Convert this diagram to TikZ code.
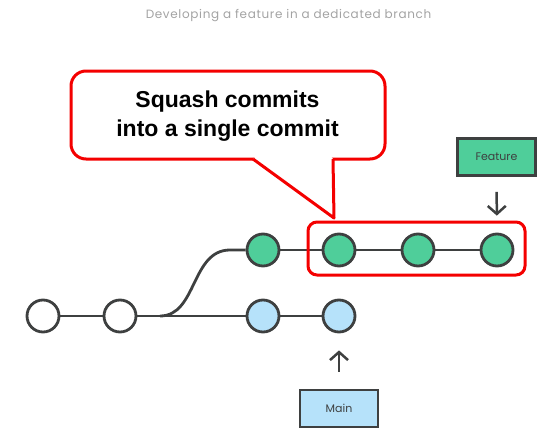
\documentclass[tikz,border=0pt]{standalone}
\usepackage{fontspec}
\setmainfont{Liberation Sans}
\newfontfamily\labelfont{Poppins}
\newfontfamily\titlefont[LetterSpace=5.5]{Poppins}
\usetikzlibrary{arrows.meta}

\definecolor{commitgreen}{HTML}{4FCE9A}
\definecolor{commitblue}{HTML}{B6E2FA}
\definecolor{inkgray}{HTML}{3E4040}
\definecolor{calloutred}{HTML}{F40000}
\definecolor{titlegray}{HTML}{A3A3A3}

\tikzset{
  commit/.style={circle, draw=inkgray, line width=2.8pt, minimum size=32pt, inner sep=0pt},
  plain/.style={commit, fill=white},
  featurecommit/.style={commit, fill=commitgreen},
  maincommit/.style={commit, fill=commitblue},
  history/.style={draw=inkgray, line width=2.8pt},
  branchlabel/.style={draw=inkgray, line width=2.8pt, minimum width=78pt, minimum height=37pt,
    inner sep=0pt, font=\labelfont\fontsize{11}{13}\selectfont, text=inkgray},
  pointer/.style={draw=inkgray, line width=2.5pt, -{Straight Barb[length=8pt,width=18pt,line width=2.5pt]}},
  redline/.style={draw=calloutred, line width=3pt, line join=round},
}

\begin{document}
\begin{tikzpicture}[x=1pt, y=-1pt]
  \useasboundingbox (0,0) rectangle (554,431);

  % heading
  \node[font=\titlefont\fontsize{12}{14}\selectfont, text=titlegray, anchor=base, inner sep=0pt] (title) at (288.5,18)
    {Developing a feature in a dedicated branch};

  % commits on the main line
  \node[plain] (w1) at (43,316) {};
  \node[plain] (w2) at (120,316) {};
  \node[maincommit] (b1) at (263,316) {};
  \node[maincommit] (b2) at (339,316) {};

  % commits on the feature branch
  \node[featurecommit] (g1) at (263,250) {};
  \node[featurecommit] (g2) at (339,250) {};
  \node[featurecommit] (g3) at (418,250) {};
  \node[featurecommit] (g4) at (497,250) {};

  % history edges
  \coordinate (fork) at (160,316);
  \draw[history] (w1) -- (w2);
  \draw[history] (w2) -- (b1);
  \draw[history] (b1) -- (b2);
  \draw[history] (fork) .. controls (197,316) and (191,250) .. (230,250) -- (g1.west);
  \draw[history] (g1) -- (g2);
  \draw[history] (g2) -- (g3);
  \draw[history] (g3) -- (g4);

  % branch labels
  \node[branchlabel, fill=commitgreen] (feature) at (496.5,157) {Feature};
  \node[branchlabel, fill=commitblue] (main) at (339,408.5) {Main};
  \draw[pointer, shorten <=15pt, shorten >=17pt] (feature.south) -- (g4.north);
  \draw[pointer, shorten <=17pt, shorten >=17pt] (main.north) -- (b2.south);

  % commits to be squashed
  \node[redline, rounded corners=9pt, minimum width=217pt, minimum height=53pt, inner sep=0pt]
    (squash) at (416.5,248.5) {};

  % speech bubble
  \coordinate (tip) at (334,218);
  \coordinate (baseL) at (253,159);
  \coordinate (baseR) at (333,159);
  \draw[redline, fill=white, rounded corners=15pt] (71,71) rectangle (385,159);
  \fill[white] ([xshift=2pt,yshift=1.8pt]baseL) -- ([xshift=-1.5pt,yshift=1.8pt]baseR)
    -- (baseR) -- (tip) -- (baseL) -- cycle;
  \draw[redline] (baseL) -- (tip) -- (baseR);
  \node[font=\bfseries\fontsize{23}{29}\selectfont, align=center, inner sep=0pt] (callout) at (227.5,116.5)
    {Squash commits\\into a single commit};
\end{tikzpicture}
\end{document}
